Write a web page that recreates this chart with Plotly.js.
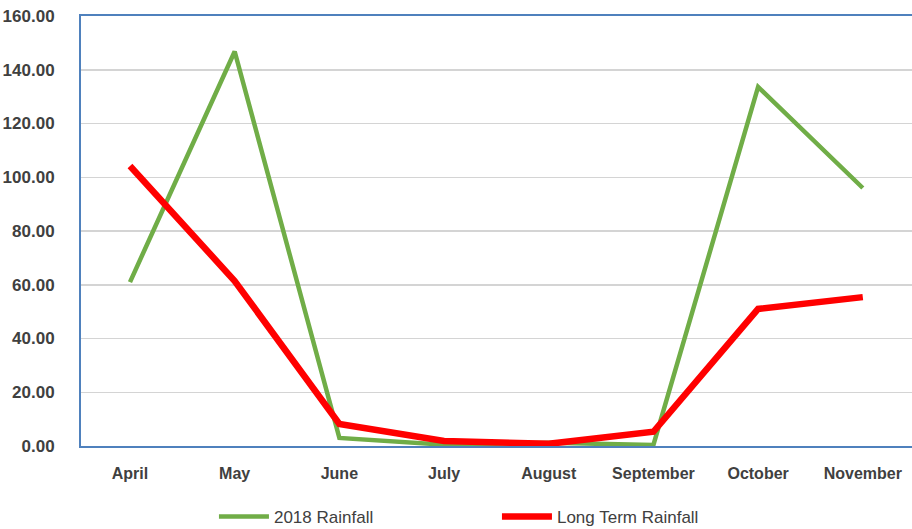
<!DOCTYPE html>
<html>
<head>
<meta charset="utf-8">
<script src="https://cdn.plot.ly/plotly-3.0.1.min.js"></script>
<style>html,body{margin:0;padding:0;background:#fff;}#chart{width:912px;height:529px;}</style>
</head>
<body>
<div id="chart"></div>
<script>
const months = ['April', 'May', 'June', 'July', 'August', 'September', 'October', 'November'];
const rain2018 = [61.0, 146.8, 3.0, 0.5, 1.2, 0.4, 133.6, 96.0];
const longTerm = [104.2, 61.4, 8.2, 1.9, 0.8, 5.3, 51.0, 55.4];
const yTicks = [0, 20, 40, 60, 80, 100, 120, 140, 160];
const yTickText = yTicks.map(v => v.toFixed(2));

const traces = [
  {
    x: months, y: rain2018, name: '2018 Rainfall', type: 'scatter', mode: 'lines',
    line: {color: '#70AD47', width: 4.5}
  },
  {
    x: months, y: longTerm, name: 'Long Term Rainfall', type: 'scatter', mode: 'lines',
    line: {color: '#FF0000', width: 6.5}
  }
];

const layout = {
  width: 912, height: 529,
  margin: {l: 81, r: 0, t: 16, b: 83, autoexpand: false},
  paper_bgcolor: '#ffffff', plot_bgcolor: '#ffffff',
  font: {family: 'Liberation Sans, Arial, sans-serif', color: '#404040'},
  showlegend: true,
  legend: {
    orientation: 'h', xref: 'container', yref: 'container',
    x: 0.2346, xanchor: 'left', y: 0.0227, yanchor: 'middle',
    font: {size: 17, color: '#404040'}, entrywidth: 218, entrywidthmode: 'pixels',
    itemwidth: 50,
    bgcolor: 'rgba(0,0,0,0)'
  },
  xaxis: {
    type: 'category', range: [-0.468, 7.47],
    showgrid: false, zeroline: false,
    showline: true, linecolor: '#4F81BD', linewidth: 2, mirror: true,
    ticks: '', ticklabelstandoff: 12,
    tickfont: {size: 16, weight: 'bold', color: '#404040'},
    fixedrange: true
  },
  yaxis: {
    range: [0, 160], tickvals: yTicks, ticktext: yTickText,
    showgrid: true, gridcolor: '#D4D4D4', gridwidth: 1.5,
    zeroline: false,
    showline: true, linecolor: '#4F81BD', linewidth: 2,
    ticks: '', ticklabelstandoff: 21,
    tickfont: {size: 17, weight: 'bold', color: '#404040'},
    fixedrange: true
  }
};

Plotly.newPlot('chart', traces, layout, {displayModeBar: false, staticPlot: true});
</script>
</body>
</html>
